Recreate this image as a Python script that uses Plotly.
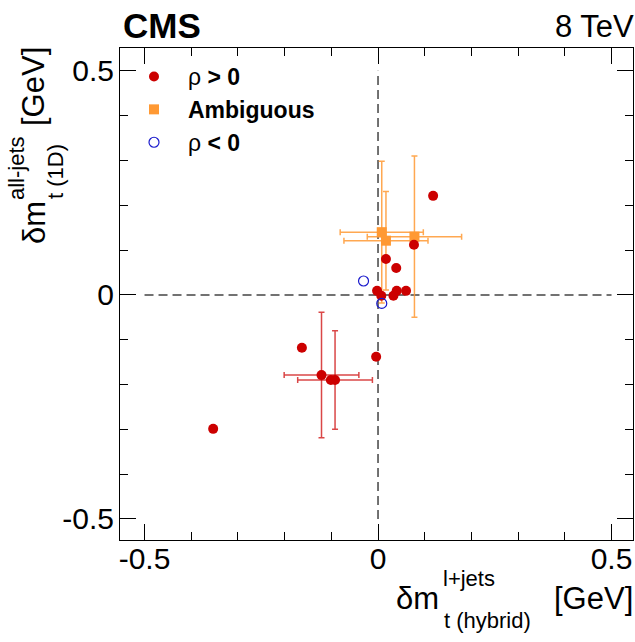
import plotly.graph_objects as go

# ---------------- data ----------------
# rho > 0 (points without error bars)
pos_x = [0.118, 0.077, 0.017, 0.039, -0.002, 0.007, 0.033, 0.040, 0.060, -0.004, -0.163, -0.101, -0.353]
pos_y = [0.221, 0.112, 0.080, 0.060, 0.009, -0.002, -0.002, 0.009, 0.009, -0.138, -0.118, -0.190, -0.299]
# rho > 0 (points with error bars)
pos_err_x = [-0.121, -0.092]
pos_err_y = [-0.179, -0.190]
pos_err_dx = [0.080, 0.080]
pos_err_dy = [0.140, 0.110]
# ambiguous
amb_x = [0.008, 0.017, 0.078]
amb_y = [0.140, 0.121, 0.130]
amb_dx = [0.089, 0.090, 0.101]
amb_dy = [0.158, 0.110, 0.180]
# rho < 0
neg_x = [-0.031, 0.008]
neg_y = [0.031, -0.019]

X_TICKS = [-0.5, 0, 0.5]
X_TICKTEXT = ["-0.5", "0", "0.5"]
Y_TICKS = [-0.5, 0, 0.5]
Y_TICKTEXT = ["-0.5", "0", "0.5"]

X_RANGE = [-0.5525, 0.546]
Y_RANGE = [-0.547, 0.551]
REF_LIM = 0.5

RED = "#cc0000"
RED_ERR = "rgba(204,0,0,0.72)"
ORANGE = "#ff9933"
ORANGE_ERR = "rgba(255,153,51,0.85)"
BLUE = "#1a1acc"
FONT = "Liberation Sans"

W, H = 635, 642
ML, MR, MT, MB = 120, 2, 48, 102
PW, PH = W - ML - MR, H - MT - MB


def px(x):
    return (x - ML) / PW


def py(y):
    return (H - MB - y) / PH


fig = go.Figure()

# ambiguous (drawn first, below red points)
fig.add_trace(go.Scatter(
    x=amb_x, y=amb_y, mode="markers", name="<b>Ambiguous</b>",
    marker=dict(symbol="square", size=10, color=ORANGE),
    error_x=dict(type="data", array=amb_dx, color=ORANGE_ERR, thickness=1.5, width=3),
    error_y=dict(type="data", array=amb_dy, color=ORANGE_ERR, thickness=1.5, width=3),
    legendrank=2,
))
fig.add_trace(go.Scatter(
    x=pos_err_x, y=pos_err_y, mode="markers", showlegend=False,
    marker=dict(symbol="circle", size=10, color=RED),
    error_x=dict(type="data", array=pos_err_dx, color=RED_ERR, thickness=1.5, width=3),
    error_y=dict(type="data", array=pos_err_dy, color=RED_ERR, thickness=1.5, width=3),
))
fig.add_trace(go.Scatter(
    x=pos_x, y=pos_y, mode="markers", name="ρ<b> &gt; 0</b>",
    marker=dict(symbol="circle", size=10, color=RED),
    legendrank=1,
))
fig.add_trace(go.Scatter(
    x=neg_x, y=neg_y, mode="markers", name="ρ<b> &lt; 0</b>",
    marker=dict(symbol="circle-open", size=10, color=BLUE, line=dict(width=1.2, color=BLUE)),
    legendrank=3,
))

# dashed reference lines
dash_style = dict(color="#444444", width=1.5, dash="9px,5px")
fig.add_shape(type="line", xref="x", yref="y", x0=-REF_LIM, x1=REF_LIM, y0=0, y1=0,
              line=dash_style, layer="below")
fig.add_shape(type="line", xref="x", yref="y", x0=0, x1=0, y0=-REF_LIM, y1=REF_LIM,
              line=dash_style, layer="below")

axis_common = dict(
    ticks="inside", ticklen=16, tickwidth=1, tickcolor="black",
    mirror="allticks", showline=True, linecolor="black", linewidth=1,
    showgrid=False, zeroline=False,
    tickfont=dict(size=30, family=FONT, color="black"),
    minor=dict(dtick=0.1, tick0=0, ticks="inside", ticklen=8, tickwidth=1,
               tickcolor="black", showgrid=False),
)

fig.update_layout(
    width=W, height=H,
    margin=dict(l=ML, r=MR, t=MT, b=MB),
    paper_bgcolor="white", plot_bgcolor="white",
    font=dict(family=FONT, color="black"),
    xaxis=dict(range=X_RANGE, tickmode="array", tickvals=X_TICKS, ticktext=X_TICKTEXT,
               ticklabelstandoff=-8, **axis_common),
    yaxis=dict(range=Y_RANGE, tickmode="array", tickvals=Y_TICKS, ticktext=Y_TICKTEXT,
               ticklabelstandoff=-1, **axis_common),
    legend=dict(x=px(120), y=py(55), xanchor="left", yanchor="top",
                font=dict(size=23, family=FONT, color="black"),
                bgcolor="rgba(0,0,0,0)", itemwidth=58, tracegroupgap=0),
    showlegend=True,
)

ann = []
def add_text(text, x, y, size, xanchor="left", yanchor="middle", angle=0, bold=False):
    ann.append(dict(text=("<b>%s</b>" % text) if bold else text,
                    x=px(x), y=py(y), xref="paper", yref="paper",
                    xanchor=xanchor, yanchor=yanchor, textangle=angle,
                    showarrow=False, font=dict(size=size, family=FONT, color="black")))

add_text("CMS", 121, 25, 35, bold=True)
add_text("8 TeV", 636, 27, 31, xanchor="right")

# x-axis title
add_text("δm", 394, 598, 31)
add_text("l+jets", 441, 578, 22)
add_text("t (hybrid)", 442, 620, 22)
add_text("[GeV]", 635, 598, 31, xanchor="right")

# y-axis title (rotated)
add_text("[GeV]", 34, 87, 31, xanchor="center", angle=-90)
add_text("δm", 34, 223, 31, xanchor="center", angle=-90)
add_text("all-jets", 16, 168, 22, xanchor="center", angle=-90)
add_text("t (1D)", 55, 172, 22, xanchor="center", angle=-90)

fig.update_layout(annotations=ann)

fig.write_html("out.html")
